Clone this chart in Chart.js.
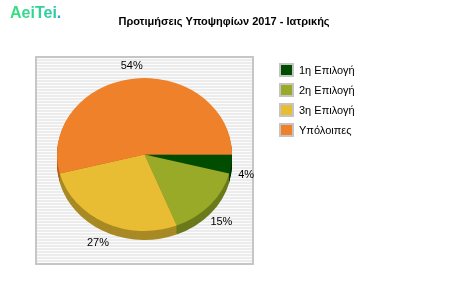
<!DOCTYPE html>
<html>
<head>
<meta charset="utf-8">
<script src="https://cdn.jsdelivr.net/npm/chart.js@4.4.0/dist/chart.umd.min.js"></script>
<style>
  html, body { margin: 0; padding: 0; background: #fff; }
  #wrap { width: 450px; height: 300px; }
</style>
</head>
<body>
<div id="wrap"><canvas id="pieChart" width="450" height="300"></canvas></div>
<script>
const chartTitle = "Προτιμήσεις Υποψηφίων 2017 - Ιατρικής";
const categories = ["1η Επιλογή", "2η Επιλογή", "3η Επιλογή", "Υπόλοιπες"];
const shares = [4, 15, 27, 54];
const sliceColors = ["#004d00", "#98aa27", "#e8bd33", "#ef812a"];
const sideColors = ["#003300", "#6b7a1b", "#a88a25", "#b2601f"];

const squash = 0.874; // pie is drawn a bit flatter than a circle
const depth = 9;

// draws the frame, title, logo, legend, 3d side and labels
const pie3d = {
  id: "pie3d",
  beforeDraw(chart) {
    const ctx = chart.ctx;
    ctx.save();
    ctx.fillStyle = "#fff";
    ctx.fillRect(0, 0, chart.width, chart.height);

    // logo
    const grad = ctx.createLinearGradient(10, 0, 62, 0);
    grad.addColorStop(0, "#3be07e");
    grad.addColorStop(1, "#2cc6ac");
    ctx.font = "bold 16px 'Liberation Sans', Arial, sans-serif";
    ctx.textBaseline = "alphabetic";
    ctx.fillStyle = grad;
    ctx.fillText("AeiTei", 10, 18);
    const w = ctx.measureText("AeiTei").width;
    ctx.fillStyle = "#2aa6d8";
    ctx.fillText(".", 10 + w, 18);

    // title
    ctx.fillStyle = "#000";
    ctx.font = "bold 11px 'Liberation Sans', Arial, sans-serif";
    ctx.textAlign = "center";
    ctx.textBaseline = "middle";
    ctx.fillText(chartTitle, 224, 22);

    // plot frame with stripes
    const bx = 35, by = 56, bw = 219, bh = 209;
    ctx.fillStyle = "#ececec";
    ctx.fillRect(bx, by, bw, bh);
    ctx.fillStyle = "#fcfcfc";
    for (let y = by + 2; y < by + bh - 2; y += 3) {
      ctx.fillRect(bx + 2, y, bw - 4, 1);
    }
    ctx.fillStyle = "#c6c6c6";
    ctx.fillRect(bx, by, bw, 2);
    ctx.fillRect(bx, by + bh - 2, bw, 2);
    ctx.fillRect(bx, by, 2, bh);
    ctx.fillRect(bx + bw - 2, by, 2, bh);

    // legend
    ctx.textAlign = "left";
    ctx.font = "11px 'Liberation Sans', Arial, sans-serif";
    categories.forEach((name, i) => {
      const y = 63 + i * 20;
      ctx.fillStyle = "#c4c4c4";
      ctx.fillRect(279, y, 15, 14);
      ctx.fillStyle = sliceColors[i];
      ctx.fillRect(281, y + 2, 11, 10);
      ctx.fillStyle = "#000";
      ctx.fillText(name, 299, y + 7.5);
    });
    ctx.restore();
  },
  beforeDatasetsDraw(chart) {
    const ctx = chart.ctx;
    const arcs = chart.getDatasetMeta(0).data;
    ctx.save();
    for (let d = depth; d >= 1; d--) {
      arcs.forEach((arc, i) => {
        const r = arc.outerRadius;
        ctx.beginPath();
        ctx.moveTo(arc.x, arc.y + d);
        ctx.ellipse(arc.x, arc.y + d, r, r * squash, 0, arc.startAngle, arc.endAngle);
        ctx.closePath();
        ctx.fillStyle = sideColors[i];
        ctx.fill();
      });
    }
    ctx.restore();
    const cx = arcs[0].x, cy = arcs[0].y;
    ctx.save();
    ctx.translate(cx, cy);
    ctx.scale(1, squash);
    ctx.translate(-cx, -cy);
  },
  afterDatasetsDraw(chart) {
    const ctx = chart.ctx;
    ctx.restore();
    const arcs = chart.getDatasetMeta(0).data;
    const total = shares.reduce((a, b) => a + b, 0);
    ctx.save();
    ctx.font = "11px 'Liberation Sans', Arial, sans-serif";
    ctx.fillStyle = "#000";
    ctx.textAlign = "center";
    ctx.textBaseline = "middle";
    arcs.forEach((arc, i) => {
      const mid = (arc.startAngle + arc.endAngle) / 2;
      const r = arc.outerRadius;
      const sin = Math.sin(mid);
      const x = arc.x + (r + 15) * Math.cos(mid);
      const y = arc.y + (r * squash + 12.5) * sin + (sin > 0 ? depth : 0);
      ctx.fillText(Math.round(shares[i] / total * 100) + "%", x, y);
    });
    ctx.restore();
  }
};

const ctx = document.getElementById("pieChart").getContext("2d");
new Chart(ctx, {
  type: "pie",
  data: {
    labels: categories,
    datasets: [
      {
        data: shares,
        backgroundColor: sliceColors,
        borderWidth: 0,
      },
    ],
  },
  options: {
    responsive: false,
    animation: false,
    rotation: 90,
    layout: {
      padding: { left: 57, right: 218, top: 67, bottom: 58 },
    },
    plugins: {
      legend: { display: false },
      title: { display: false },
      tooltip: { enabled: false },
    },
  },
  plugins: [pie3d],
});
</script>
</body>
</html>
